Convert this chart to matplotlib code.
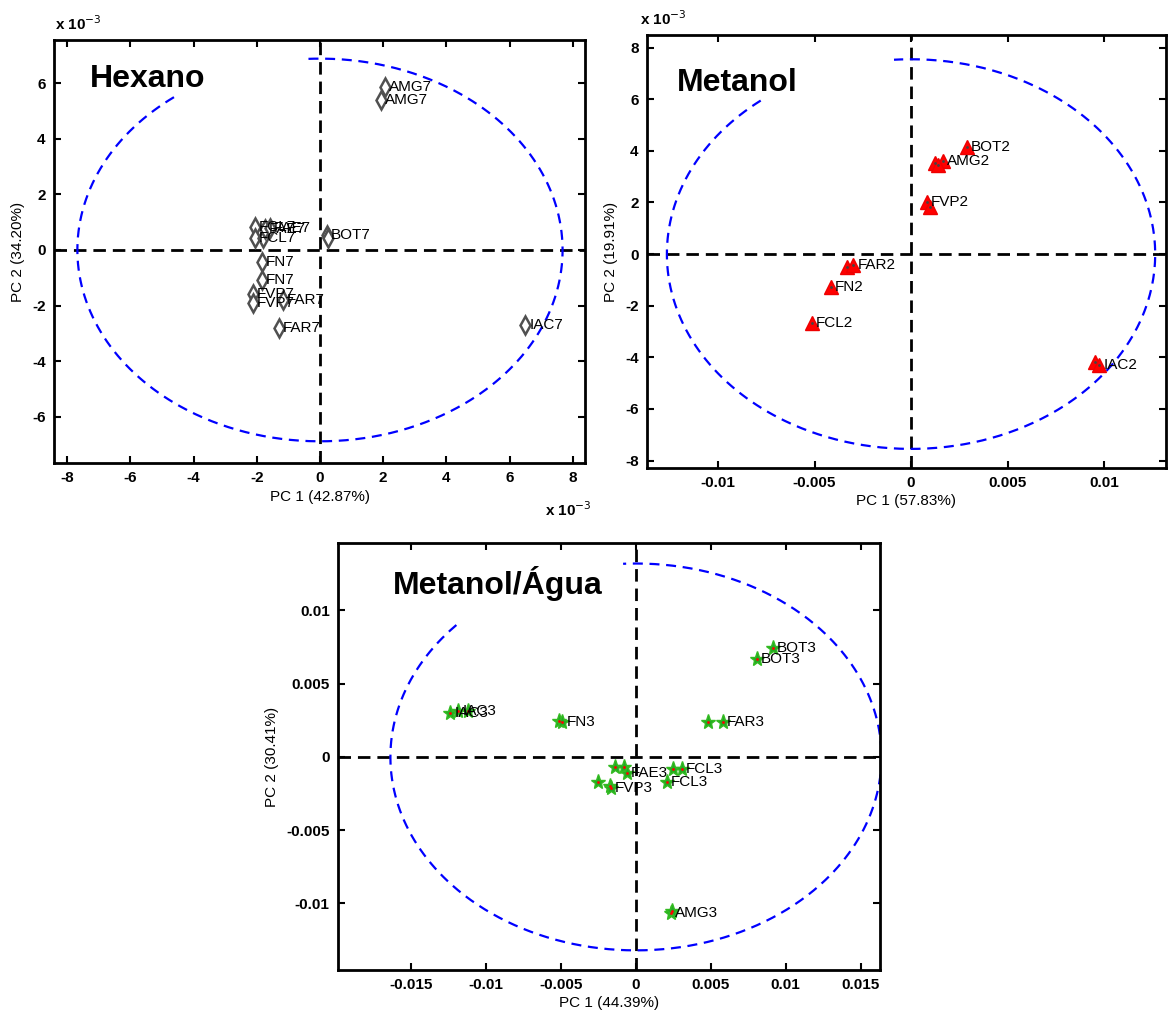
import numpy as np
import matplotlib
matplotlib.use("Agg")
import matplotlib.pyplot as plt

plt.rcParams['font.family'] = ['Liberation Sans', 'DejaVu Sans']

# Hexano scores (both axes in units of 1e-3)
hex_x = [2.06, 1.93, 0.22, 0.25, 6.49, -2.06, -2.06, -1.80, -1.74, -1.58,
         -1.84, -1.84, -2.12, -2.12, -1.17, -1.30]
hex_y = [5.86, 5.40, 0.54, 0.43, -2.70, 0.83, 0.43, 0.43, 0.76, 0.79,
         -0.43, -1.08, -1.58, -1.91, -1.80, -2.81]
hex_lab = ['AMG7', 'AMG7', 'BOT7', '', 'IAC7', 'FCL7', 'FCL7', '', 'FAE7', 'FAE7',
           'FN7', 'FN7', 'FVP7', 'FVP7', 'FAR7', 'FAR7']
hex_ell = (7.68, 6.88)

# Metanol scores (x in raw units, y in units of 1e-3)
met_x = [0.00290, 0.00124, 0.00166, 0.00140, 0.00083, 0.00098, -0.00332, -0.00300,
         -0.00415, -0.00513, 0.00953, 0.00975]
met_y = [4.15, 3.53, 3.60, 3.45, 2.02, 1.82, -0.50, -0.43, -1.28, -2.67, -4.19, -4.28]
met_lab = ['BOT2', '', 'AMG2', '', 'FVP2', '', '', 'FAR2', 'FN2', 'FCL2', '', 'IAC2']
met_ell = (0.01265, 7.55)

# Metanol/Agua scores (raw units)
agu_x = [-0.0124, -0.01187, -0.0112, -0.00513, -0.00493, 0.0048, 0.0058,
         -0.0014, -0.0008, -0.0006, 0.00247, 0.00307, 0.00207,
         -0.00253, -0.00173, -0.00167, 0.00913, 0.00807, 0.00233, 0.00240]
agu_y = [0.0030, 0.00314, 0.00314, 0.00246, 0.00239, 0.00239, 0.00239,
         -0.00068, -0.00068, -0.00109, -0.00082, -0.00082, -0.00171,
         -0.00171, -0.00198, -0.00212, 0.00744, 0.00669, -0.01065, -0.01050]
agu_lab = ['IAC3', 'IAC3', '', '', 'FN3', '', 'FAR3',
           '', '', 'FAE3', '', 'FCL3', 'FCL3',
           '', '', 'FVP3', 'BOT3', 'BOT3', 'AMG3', '']
agu_ell = (0.0164, 0.0132)

W, H = 1171, 1014
fig = plt.figure(figsize=(W / 100, H / 100), dpi=100)


def box(l, r, t, b):
    return [l / W, 1 - b / H, (r - l) / W, (b - t) / H]


def setup(ax, xlim, ylim, xticks, yticks, xlabel, ylabel, title, tpos):
    ax.set_xlim(xlim)
    ax.set_ylim(ylim)
    ax.axvline(0, color='black', lw=2, dashes=(4.5, 2.5), zorder=1)
    ax.axhline(0, color='black', lw=2, dashes=(4.5, 2.5), zorder=1)
    ax.set_xticks(xticks)
    ax.set_yticks(yticks)
    ax.set_xticklabels(['%g' % v for v in xticks])
    ax.set_yticklabels(['%g' % v for v in yticks])
    ax.tick_params(direction='in', length=5, width=1.5, top=True, right=True,
                   labelsize=11, pad=6)
    for lbl in ax.get_xticklabels() + ax.get_yticklabels():
        lbl.set_fontweight('bold')
    for s in ax.spines.values():
        s.set_linewidth(2)
    ax.set_xlabel(xlabel, fontsize=11, labelpad=3)
    ax.set_ylabel(ylabel, fontsize=11, labelpad=5)
    ax.text(tpos[0], tpos[1], title, transform=ax.transAxes, fontsize=23,
            fontweight='bold', ha='left', va='center')


def ellipse(ax, a, b, gap):
    t = np.radians(np.linspace(gap[1], gap[0] + 360, 600))
    ax.plot(a * np.cos(t), b * np.sin(t), color='#0000ff', lw=1.6,
            dashes=(4.5, 3), zorder=2)


def labels(ax, xs, ys, labs, fs=11):
    for x, y, s in zip(xs, ys, labs):
        if s:
            ax.annotate(s, (x, y), xytext=(3, 0), textcoords='offset points',
                        ha='left', va='center', fontsize=fs, zorder=5)


# Hexano
ax1 = fig.add_axes(box(54, 585, 40, 463))
setup(ax1, (-8.42, 8.39), (-7.66, 7.55), np.arange(-8, 9, 2), np.arange(-6, 7, 2),
      'PC 1 (42.87%)', 'PC 2 (34.20%)', 'Hexano', (0.068, 0.908))
ellipse(ax1, *hex_ell, gap=(93, 127))
ax1.plot(hex_x, hex_y, 'd', ms=9, mfc='white', mec='#505050', mew=1.8, zorder=4)
labels(ax1, hex_x, hex_y, hex_lab)
fig.text(55 / W, 1 - 24 / H, r'x 10$^{-3}$', fontsize=11, fontweight='bold',
         ha='left', va='center')
fig.text(545 / W, 1 - 510 / H, r'x 10$^{-3}$', fontsize=11, fontweight='bold',
         ha='left', va='center')

# Metanol
ax2 = fig.add_axes(box(647, 1166, 35, 468))
setup(ax2, (-0.01368, 0.01321), (-8.29, 8.49), [-0.01, -0.005, 0, 0.005, 0.01],
      np.arange(-8, 9, 2), 'PC 1 (57.83%)', 'PC 2 (19.91%)', 'Metanol',
      (0.058, 0.889))
ellipse(ax2, *met_ell, gap=(94, 128))
ax2.plot(met_x, met_y, '^', ms=10, mfc='#ff0000', mec='#ee0000', mew=1, zorder=4)
ax2.plot(met_x, met_y, '.', ms=2, color='#444444', zorder=4)
labels(ax2, met_x, met_y, met_lab)
fig.text(640 / W, 1 - 19 / H, r'x 10$^{-3}$', fontsize=11, fontweight='bold',
         ha='left', va='center')

# Metanol/Agua
ax3 = fig.add_axes(box(338, 880, 543, 970))
setup(ax3, (-0.0199, 0.0163), (-0.01454, 0.0146),
      [-0.015, -0.01, -0.005, 0, 0.005, 0.01, 0.015],
      [-0.01, -0.005, 0, 0.005, 0.01], 'PC 1 (44.39%)', 'PC 2 (30.41%)',
      'Metanol/Água', (0.101, 0.904))
ellipse(ax3, *agu_ell, gap=(93, 137))
ax3.plot(agu_x, agu_y, '*', ms=11, color='#22aa22', mec='#33bb22', zorder=4)
ax3.plot(agu_x, agu_y, '.', ms=2, color='red', zorder=4)
labels(ax3, agu_x, agu_y, agu_lab)

fig.savefig('out.png', dpi=100)
